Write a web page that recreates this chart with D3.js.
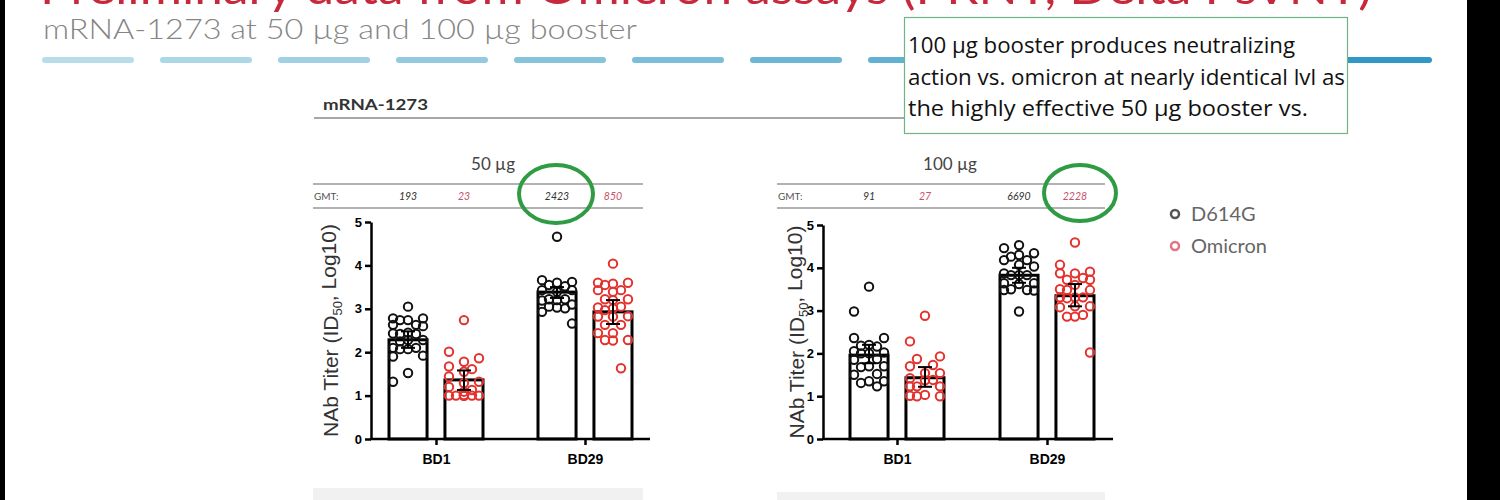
<!DOCTYPE html>
<html>
<head>
<meta charset="utf-8">
<script src="https://cdn.jsdelivr.net/npm/d3@7"></script>
<style>
  body { margin: 0; background: #fff; }
  svg { display: block; }
</style>
</head>
<body>
<div id="chart"></div>
<script>
// ---- data ----
const days = ['BD1', 'BD29'];
const variants = ['D614G', 'Omicron'];
const yTicks = [0, 1, 2, 3, 4, 5];

// GMT per group, order: BD1-D614G, BD1-Omicron, BD29-D614G, BD29-Omicron
const gmt50 = [193, 23, 2423, 850];
const gmt100 = [91, 27, 6690, 2228];

// individual titers (log10)
const pts50BD1D614G = [3.05, 2.78, 2.74, 2.74, 2.78, 2.63, 2.6, 2.63, 2.45, 2.42, 2.42, 2.43, 2.28, 2.25, 2.28, 2.1, 2.07, 2.1, 2.07, 1.9, 1.92, 1.52, 1.32];
const pts50BD1Omicron = [2.74, 2.01, 1.86, 1.78, 1.67, 1.61, 1.55, 1.44, 1.32, 1.29, 1.2, 1.13, 1.09, 1.0, 1.0, 1.0, 1.0, 1.0, 1.0, 1.0, 1.0];
const pts50BD29D614G = [4.66, 3.52, 3.62, 3.66, 3.6, 3.55, 3.39, 3.43, 3.43, 3.22, 3.2, 3.19, 3.22, 3.1, 3.05, 3.01, 3.03, 2.93, 2.66];
const pts50BD29Omicron = [4.04, 3.6, 3.58, 3.55, 3.6, 3.43, 3.39, 3.43, 3.22, 3.2, 3.22, 3.05, 3.01, 3.03, 2.97, 2.82, 2.82, 2.83, 2.63, 2.63, 2.44, 2.44, 2.28, 2.27, 2.28, 1.63];

const pts100BD1D614G = [3.56, 2.98, 2.36, 2.36, 2.2, 2.16, 2.18, 2.05, 2.0, 2.02, 2.0, 1.85, 1.87, 1.7, 1.68, 1.7, 1.5, 1.52, 1.35, 1.31, 1.35, 1.23];
const pts100BD1Omicron = [2.88, 2.28, 1.93, 1.87, 1.7, 1.73, 1.54, 1.54, 1.38, 1.37, 1.42, 1.23, 1.23, 1.23, 1.03, 1.0, 1.0, 1.01];
const pts100BD29D614G = [4.53, 4.46, 4.34, 4.3, 4.18, 4.18, 4.26, 4.03, 4.07, 3.83, 3.83, 3.87, 3.83, 3.64, 3.62, 3.64, 3.48, 3.47, 3.48, 3.5, 2.98];
const pts100BD29Omicron = [4.59, 4.07, 3.87, 3.91, 3.87, 3.72, 3.72, 3.76, 3.6, 3.48, 3.48, 3.5, 3.31, 3.29, 3.31, 3.31, 3.1, 3.08, 3.1, 2.9, 2.86, 2.86, 2.02];

// 95% CI around GMT (log10)
const err50 = [[2.1, 2.48], [1.13, 1.58], [3.25, 3.5], [2.65, 3.2]];
const err100 = [[1.77, 2.2], [1.22, 1.68], [3.65, 4.0], [3.1, 3.62]];

const noteLines = [
    '100 µg booster produces neutralizing',
    'action vs. omicron at nearly identical lvl as',
    'the highly effective 50 µg booster vs.'
];

// ---- canvas ----
const width = 1500;
const height = 500;
const svg = d3.select('#chart').append('svg')
    .attr('width', width)
    .attr('height', height);

const chartFont = '"Liberation Sans", Arial, sans-serif';
const gothic = 'Lato, "Open Sans", sans-serif';

// slide title (cut off at the top)
svg.append('text')
    .attr('x', 40)
    .attr('y', 4)
    .attr('textLength', 1332)
    .attr('lengthAdjust', 'spacingAndGlyphs')
    .style('font-family', gothic)
    .style('font-size', '46px')
    .style('fill', '#c8283c')
    .text('Preliminary data from Omicron assays (PRNT, Delta PsVNT)');

// subtitle
svg.append('text')
    .attr('x', 43)
    .attr('y', 39)
    .attr('textLength', 594)
    .attr('lengthAdjust', 'spacingAndGlyphs')
    .style('font-family', gothic)
    .style('font-size', '27px')
    .style('font-weight', 300)
    .style('fill', '#858585')
    .text('mRNA-1273 at 50 µg and 100 µg booster');

// dashed rule under subtitle
const dashStarts = d3.range(42, 1400, 118);
const dashColor = d3.interpolateRgb('#b8dde9', '#2f98c6');
svg.append('g').selectAll('line')
    .data(dashStarts)
    .join('line')
    .attr('x1', d => d + 3)
    .attr('x2', d => d + 89)
    .attr('y1', 60)
    .attr('y2', 60)
    .attr('stroke', (d, i) => dashColor(i / (dashStarts.length - 1)))
    .attr('stroke-width', 6)
    .attr('stroke-linecap', 'round');

// figure header
svg.append('text')
    .attr('x', 323)
    .attr('y', 110)
    .attr('textLength', 105)
    .attr('lengthAdjust', 'spacingAndGlyphs')
    .style('font-family', gothic)
    .style('font-weight', 'bold')
    .style('font-size', '16px')
    .style('fill', '#333')
    .text('mRNA-1273');

svg.append('line')
    .attr('x1', 314).attr('x2', 1120)
    .attr('y1', 118).attr('y2', 118)
    .attr('stroke', '#8a8a8a')
    .attr('stroke-width', 1.5);

// simple swarm: spread points sideways so they do not pile up
function swarm(values, y) {
    const offsets = [0, -8, 8, -15, 15];
    const placed = [];
    values.slice().sort((a, b) => b - a).forEach(v => {
        const py = y(v);
        let best = 0, bestDist = -1;
        offsets.forEach(o => {
            let dmin = Infinity;
            placed.forEach(p => {
                dmin = Math.min(dmin, Math.hypot(p.dx - o, p.py - py));
            });
            if (dmin > bestDist + 0.5) {
                bestDist = dmin;
                best = o;
            }
        });
        placed.push({ v, dx: best, py });
    });
    return placed;
}

function drawPanel(lay, gmt, points, errs, doseLabel) {
    const g = svg.append('g');

    const x = d3.scalePoint().domain(days).range(lay.centers);
    const xv = d3.scaleBand().domain(variants).range([-47, 47]).paddingInner(0.32);
    const y = d3.scaleLinear().domain([0, 5]).range([lay.yBottom, lay.yTop]);

    const groups = days.flatMap(d => variants.map(v => ({ day: d, variant: v })));
    groups.forEach((d, i) => {
        d.gmt = gmt[i];
        d.log = Math.log10(gmt[i]);
        d.pts = points[i];
        d.err = errs[i];
        d.cx = x(d.day) + xv(d.variant) + xv.bandwidth() / 2;
    });

    // dose label
    g.append('text')
        .attr('x', lay.titleX)
        .attr('y', 170)
        .attr('text-anchor', 'middle')
        .style('font-family', gothic)
        .style('font-size', '17px')
        .style('fill', '#444')
        .text(doseLabel);

    // GMT row
    [184, 208].forEach(ly => {
        g.append('line')
            .attr('x1', lay.gmtX0).attr('x2', lay.gmtX1)
            .attr('y1', ly).attr('y2', ly)
            .attr('stroke', '#999')
            .attr('stroke-width', 1.5);
    });
    g.append('text')
        .attr('x', lay.gmtX0 + 1)
        .attr('y', 200)
        .style('font-family', gothic)
        .style('font-size', '10px')
        .style('fill', '#555')
        .text('GMT:');
    g.selectAll('.gmt')
        .data(groups)
        .join('text')
        .attr('class', 'gmt')
        .attr('x', d => d.cx)
        .attr('y', 200)
        .attr('text-anchor', 'middle')
        .style('font-family', gothic)
        .style('font-size', '10.5px')
        .style('font-style', 'italic')
        .style('fill', d => d.variant === 'Omicron' ? '#c9506a' : '#333')
        .text(d => d.gmt);

    // bars
    g.selectAll('.bar')
        .data(groups)
        .join('rect')
        .attr('class', 'bar')
        .attr('x', d => x(d.day) + xv(d.variant))
        .attr('width', xv.bandwidth())
        .attr('y', d => y(d.log))
        .attr('height', d => y(0) - y(d.log))
        .attr('fill', '#fff')
        .attr('stroke', '#000')
        .attr('stroke-width', 3);

    // points
    groups.forEach(d => {
        const red = d.variant === 'Omicron';
        g.append('g').selectAll('circle')
            .data(swarm(d.pts, y))
            .join('circle')
            .attr('cx', p => d.cx + p.dx)
            .attr('cy', p => p.py)
            .attr('r', 4.2)
            .attr('fill', 'none')
            .attr('stroke', red ? '#e3322e' : '#111')
            .attr('stroke-width', 2);
    });

    // error bars
    const eb = g.append('g').attr('stroke', '#000').attr('stroke-width', 2);
    groups.forEach(d => {
        eb.append('line')
            .attr('x1', d.cx).attr('x2', d.cx)
            .attr('y1', y(d.err[0])).attr('y2', y(d.err[1]));
        d.err.forEach(e => {
            eb.append('line')
                .attr('x1', d.cx - 7).attr('x2', d.cx + 7)
                .attr('y1', y(e)).attr('y2', y(e));
        });
    });

    // y axis
    const yAxis = g.append('g')
        .attr('transform', `translate(${lay.axisX},0)`)
        .call(d3.axisLeft(y).tickValues(yTicks).tickFormat(d3.format('d')).tickSize(6).tickSizeOuter(0).tickPadding(3));
    yAxis.select('.domain').attr('stroke-width', 2.5);
    yAxis.selectAll('.tick line').attr('stroke-width', 2.5);
    yAxis.selectAll('text')
        .style('font-family', chartFont)
        .style('font-weight', 'bold')
        .style('font-size', '13px')
        .attr('fill', '#000');

    // x axis
    g.append('line')
        .attr('x1', lay.axisX - 1).attr('x2', lay.axisRight)
        .attr('y1', y(0)).attr('y2', y(0))
        .attr('stroke', '#000')
        .attr('stroke-width', 2.5);
    const xAxis = g.append('g')
        .attr('transform', `translate(0,${y(0)})`)
        .call(d3.axisBottom(x).tickSize(6).tickPadding(9));
    xAxis.select('.domain').remove();
    xAxis.selectAll('.tick line').attr('stroke-width', 2.5);
    xAxis.selectAll('text')
        .style('font-family', chartFont)
        .style('font-weight', 'bold')
        .style('font-size', '14px')
        .attr('fill', '#000');

    // y title
    const yt = g.append('text')
        .attr('transform', `translate(${lay.labelX},${(lay.yTop + lay.yBottom) / 2}) rotate(-90)`)
        .attr('text-anchor', 'middle')
        .attr('dy', '0.35em')
        .style('font-family', chartFont)
        .style('font-size', '21px')
        .style('fill', '#333');
    yt.append('tspan').text('NAb Titer (ID');
    yt.append('tspan').attr('dy', '0.3em').style('font-size', '13px').text('50');
    yt.append('tspan').attr('dy', '-0.3em').text(', Log10)');

    // grey strip at the bottom
    g.append('rect')
        .attr('x', lay.gmtX0)
        .attr('y', lay.stripY)
        .attr('width', lay.gmtX1 - lay.gmtX0)
        .attr('height', 500 - lay.stripY)
        .attr('fill', '#f1f1f1');

    // highlight ellipse
    g.append('ellipse')
        .attr('cx', lay.ring[0])
        .attr('cy', lay.ring[1])
        .attr('rx', lay.ring[2])
        .attr('ry', lay.ring[3])
        .attr('fill', 'none')
        .attr('stroke', '#2f9b42')
        .attr('stroke-width', 4);
}

drawPanel({
    axisX: 371, axisRight: 650, yTop: 222, yBottom: 439, centers: [436, 585],
    titleX: 493, gmtX0: 313, gmtX1: 643, labelX: 331, stripY: 488,
    ring: [556, 194, 37, 29]
}, gmt50, [pts50BD1D614G, pts50BD1Omicron, pts50BD29D614G, pts50BD29Omicron], err50, '50 µg');

drawPanel({
    axisX: 823, axisRight: 1113, yTop: 225, yBottom: 439, centers: [897, 1047],
    titleX: 950, gmtX0: 777, gmtX1: 1105, labelX: 797, stripY: 492,
    ring: [1080, 193, 36, 28]
}, gmt100, [pts100BD1D614G, pts100BD1Omicron, pts100BD29D614G, pts100BD29Omicron], err100, '100 µg');

// legend
const legend = svg.append('g');
legend.selectAll('circle')
    .data(variants)
    .join('circle')
    .attr('cx', 1175)
    .attr('cy', (d, i) => 214 + i * 32)
    .attr('r', 4)
    .attr('fill', 'none')
    .attr('stroke', d => d === 'Omicron' ? '#e07682' : '#555')
    .attr('stroke-width', 2.5);
legend.selectAll('text')
    .data(variants)
    .join('text')
    .attr('x', 1191)
    .attr('y', (d, i) => 214 + i * 32)
    .attr('dy', '0.35em')
    .style('font-family', gothic)
    .style('font-size', '20px')
    .style('fill', '#666')
    .text(d => d);

// annotation box
svg.append('rect')
    .attr('x', 904.5)
    .attr('y', 17.5)
    .attr('width', 443)
    .attr('height', 116)
    .attr('fill', '#fff')
    .attr('stroke', '#6fb386')
    .attr('stroke-width', 1.2);
const noteWidths = [387, 437, 400];
svg.append('g').selectAll('text')
    .data(noteLines)
    .join('text')
    .attr('x', 908)
    .attr('y', (d, i) => 53 + i * 31.5)
    .attr('textLength', (d, i) => noteWidths[i])
    .attr('lengthAdjust', 'spacingAndGlyphs')
    .style('font-family', '"Open Sans", "Noto Sans", sans-serif')
    .style('font-size', '21px')
    .style('fill', '#111')
    .text(d => d);

// black side borders
svg.append('rect').attr('x', 0).attr('y', 0).attr('width', 5).attr('height', height).attr('fill', '#000');
svg.append('rect').attr('x', 1467).attr('y', 0).attr('width', 33).attr('height', height).attr('fill', '#000');
</script>
</body>
</html>
